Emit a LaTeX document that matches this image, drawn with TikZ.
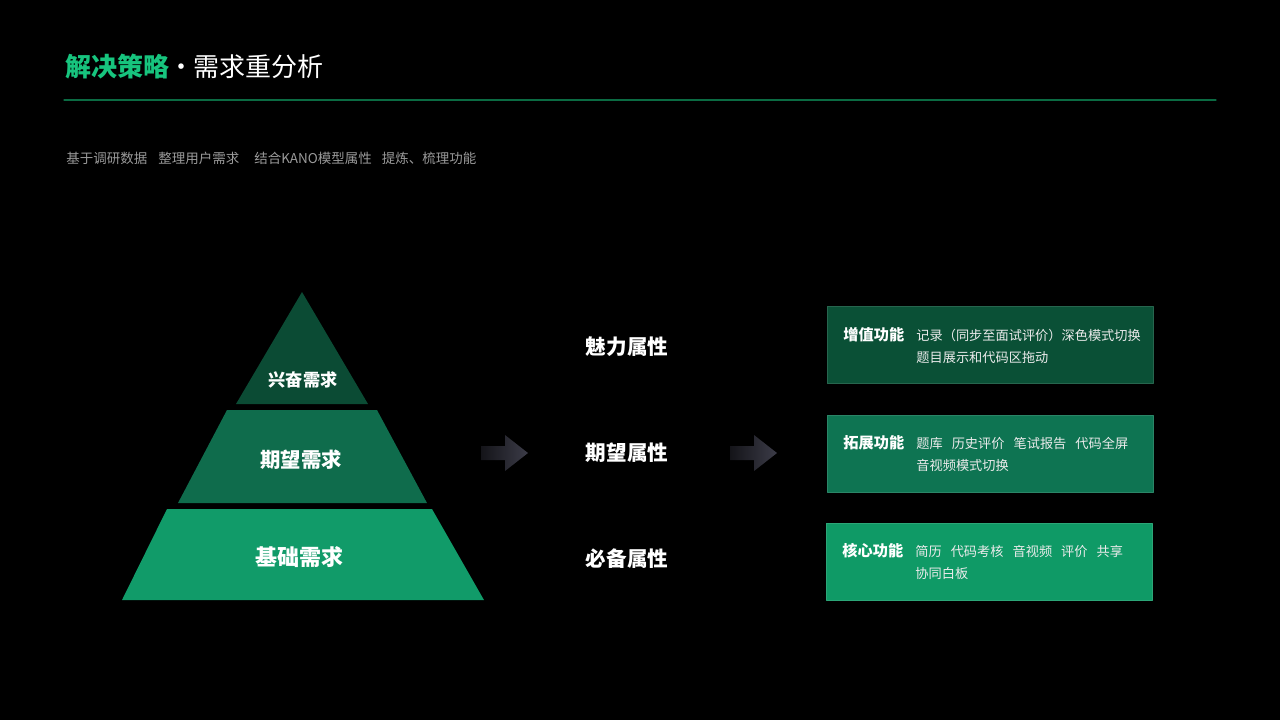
\documentclass[tikz,border=0pt]{standalone}
\usepackage{fontspec}
\setmainfont{Noto Sans CJK SC}
\usepackage{xcolor}
\usetikzlibrary{positioning}
\definecolor{titlegreen}{HTML}{17C47E}
\definecolor{rulegreen}{HTML}{0B6B43}
\definecolor{subgray}{HTML}{9A9A9A}
\definecolor{tierone}{HTML}{0B4B34}
\definecolor{tiertwo}{HTML}{0F6C4C}
\definecolor{tierthree}{HTML}{119B69}
\definecolor{boxone}{HTML}{0A5036}
\definecolor{boxtwo}{HTML}{0E7452}
\definecolor{boxthree}{HTML}{0F9A66}
\definecolor{arrowdark}{HTML}{141419}
\definecolor{arrowgray}{HTML}{3C3C48}
\tikzset{
    every picture/.style={line cap=round,line join=round},
    tiertext/.style={text=white,inner sep=0pt,font=\bfseries},
    attrlabel/.style={text=white,inner sep=0pt,
      font=\fontsize{10.3pt}{12pt}\selectfont\bfseries},
    featbox/.style={draw=#1!88!white,fill=#1,line width=0.5pt,
      minimum width=163pt,minimum height=38.5pt,inner sep=0pt},
    feathead/.style={anchor=west,text=white,inner sep=0pt,
      font=\fontsize{7.6pt}{9pt}\selectfont\bfseries},
    featitem/.style={anchor=west,text=white!92!black,inner sep=0pt,
      font=\fontsize{6.6pt}{8pt}\selectfont},
    blockarrow/.style={left color=arrowdark,right color=arrowgray}
}

\begin{document}
\begin{tikzpicture}[x=0.5pt,y=-0.5pt]
    \useasboundingbox (0,0) rectangle (1280,720);
    \fill[black] (0,0) rectangle (1280,720);

    % header
    \node[anchor=west,inner sep=0pt,font=\fontsize{13pt}{15pt}\selectfont] (title) at (65,67)
        {\textcolor{titlegreen}{\bfseries 解决策略}\hspace{-0.5pt}\textcolor{white}{·}\hspace{-0.5pt}\textcolor{white}{需求重分析}};
    \coordinate (ruleL) at (64,100);
    \coordinate (ruleR) at (1216,100);
    \draw[rulegreen,line width=0.6pt] (ruleL) -- (ruleR);
    \node[anchor=west,inner sep=0pt,text=subgray,font=\fontsize{6.75pt}{8pt}\selectfont] (subtitle) at (66,158)
        {基于调研数据\hspace{5.5pt}整理用户需求\hspace{7.5pt}结合KANO模型属性\hspace{5pt}提炼、梳理功能};

    % pyramid
    \fill[tierone] (302,292) -- (368,404) -- (236,404) -- cycle;
    \fill[tiertwo] (227,410) -- (377,410) -- (427,503) -- (178,503) -- cycle;
    \fill[tierthree] (167,509) -- (432,509) -- (484,600) -- (122,600) -- cycle;
    \node[tiertext,font=\fontsize{8.6pt}{10pt}\selectfont\bfseries] (tierTop) at (303,380) {兴奋需求};
    \node[tiertext,font=\fontsize{10.2pt}{12pt}\selectfont\bfseries] (tierMid) at (301,460) {期望需求};
    \node[tiertext,font=\fontsize{11pt}{13pt}\selectfont\bfseries] (tierBase) at (299,557) {基础需求};

    % arrows
    \foreach \ax in {481,730} {
        \shade[blockarrow] (\ax,446) -- ++(24,0) -- ++(0,-11) -- ++(23,18)
            -- ++(-23,18) -- ++(0,-11) -- ++(-24,0) -- cycle;
    }

    % attributes
    \node[attrlabel] (attrCharm) at (627,347) {魅力属性};
    \node[attrlabel] (attrExpect) at (627,453) {期望属性};
    \node[attrlabel] (attrMust) at (627,559) {必备属性};

    % feature boxes
    \node[featbox=boxone] (boxValue) at (990,345) {};
    \node[featbox=boxtwo] (boxExtend) at (990,453.5) {};
    \node[featbox=boxthree] (boxCore) at (989,561.5) {};

    \node[feathead] (headValue) at (843,335) {增值功能};
    \node[featitem] (itemValueA) at (916,335) {记录（同步至面试评价）深色模式切换};
    \node[featitem] (itemValueB) at (916,357) {题目展示和代码区拖动};

    \node[feathead] (headExtend) at (843,443) {拓展功能};
    \node[featitem] (itemExtendA) at (916,443) {题库\hspace{4.5pt}历史评价\hspace{4.5pt}笔试报告\hspace{4.5pt}代码全屏};
    \node[featitem] (itemExtendB) at (916,465) {音视频模式切换};

    \node[feathead] (headCore) at (842,551) {核心功能};
    \node[featitem] (itemCoreA) at (915,551) {简历\hspace{4.5pt}代码考核\hspace{4.5pt}音视频\hspace{4.5pt}评价\hspace{4.5pt}共享};
    \node[featitem] (itemCoreB) at (915,573) {协同白板};
\end{tikzpicture}
\end{document}
